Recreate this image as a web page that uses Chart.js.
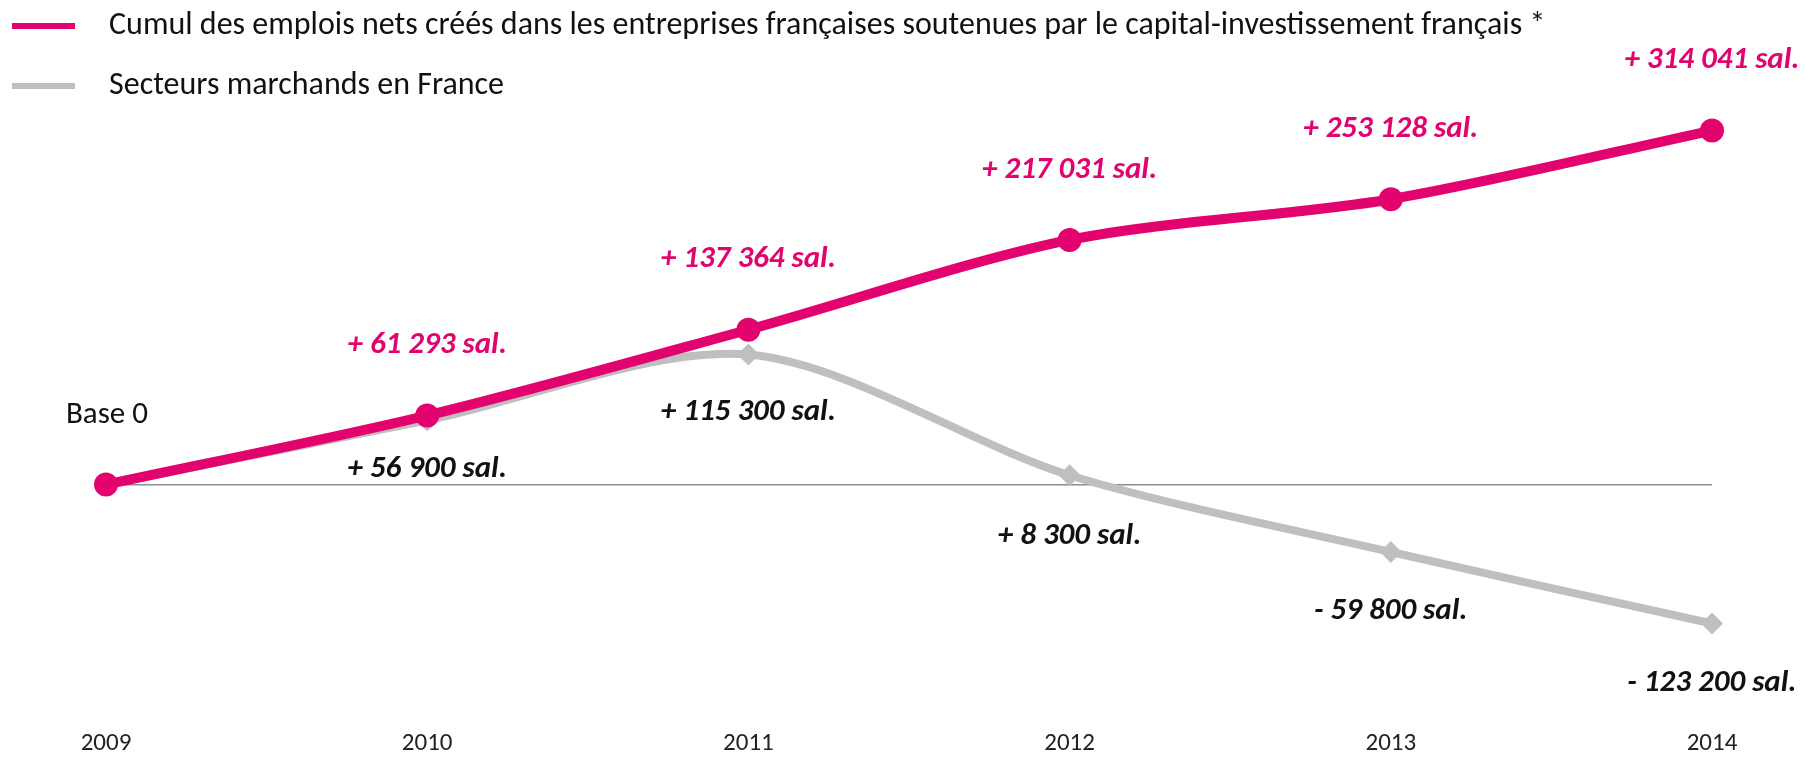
<!DOCTYPE html>
<html>
<head>
<meta charset="utf-8">
<script src="https://cdn.jsdelivr.net/npm/chart.js@4"></script>
<style>
  html, body { margin: 0; padding: 0; background: #fff; }
  #wrap { width: 1806px; height: 757px; position: relative; }
</style>
</head>
<body>
<div id="wrap"><canvas id="emploisChart"></canvas></div>
<script>
const years = ["2009", "2010", "2011", "2012", "2013", "2014"];
const capitalInvest = [0, 61293, 137364, 217031, 253128, 314041];
const secteursMarchands = [0, 56900, 115300, 8300, -59800, -123200];
const capitalLabels = ["", "+ 61 293 sal.", "+ 137 364 sal.", "+ 217 031 sal.", "+ 253 128 sal.", "+ 314 041 sal."];
const secteursLabels = ["", "+ 56 900 sal.", "+ 115 300 sal.", "+ 8 300 sal.", "- 59 800 sal.", "- 123 200 sal."];
const seriesNames = [
  "Cumul des emplois nets créés dans les entreprises françaises soutenues par le capital-investissement français *",
  "Secteurs marchands en France"
];

const MAGENTA = "#E2036F";
const GREY = "#BFBFBF";
const FONT = "Carlito, Lato, sans-serif";

// value labels above / below the points
const valueLabels = {
  id: "valueLabels",
  afterDatasetsDraw(chart) {
    const ctx = chart.ctx;
    ctx.save();
    ctx.font = "italic bold 31px " + FONT;
    ctx.textBaseline = "middle";
    const pink = chart.getDatasetMeta(0).data;
    pink.forEach((pt, i) => {
      if (!capitalLabels[i]) return;
      ctx.fillStyle = MAGENTA;
      ctx.textAlign = "center";
      let x = pt.x;
      const w = ctx.measureText(capitalLabels[i]).width;
      if (x + w / 2 > chart.width - 4) x = chart.width - 4 - w / 2;
      ctx.fillText(capitalLabels[i], x, pt.y - 70);
    });
    const grey = chart.getDatasetMeta(1).data;
    const below = [0, 49, 58, 61, 59, 60];
    grey.forEach((pt, i) => {
      if (!secteursLabels[i]) return;
      ctx.fillStyle = "#111";
      ctx.textAlign = "center";
      let x = pt.x;
      const w = ctx.measureText(secteursLabels[i]).width;
      if (x + w / 2 > chart.width - 4) x = chart.width - 4 - w / 2;
      ctx.fillText(secteursLabels[i], x, pt.y + below[i]);
    });
    // "Base 0" note
    const p0 = pink[0];
    ctx.font = "31px " + FONT;
    ctx.fillStyle = "#111";
    ctx.textAlign = "left";
    ctx.fillText("Base 0", p0.x - 40, p0.y - 69);
    ctx.restore();
  }
};

// legend drawn in the top padding
const topLegend = {
  id: "topLegend",
  afterDraw(chart) {
    const ctx = chart.ctx;
    ctx.save();
    ctx.font = "32px " + FONT;
    ctx.textBaseline = "middle";
    ctx.textAlign = "left";
    chart.data.datasets.forEach((ds, i) => {
      const y = 26 + i * 60;
      ctx.fillStyle = ds.borderColor;
      ctx.fillRect(12, y - 3, 63, 6);
      ctx.fillStyle = "#111";
      ctx.fillText(ds.label, 109, y);
    });
    ctx.restore();
  }
};

new Chart(document.getElementById("emploisChart"), {
  type: "line",
  data: {
    labels: years,
    datasets: [
      {
        label: seriesNames[0],
        data: capitalInvest,
        borderColor: MAGENTA,
        backgroundColor: MAGENTA,
        borderWidth: 10,
        pointRadius: 12,
        pointStyle: "circle",
        pointBorderWidth: 0,
        tension: 0.3
      },
      {
        label: seriesNames[1],
        data: secteursMarchands,
        borderColor: GREY,
        backgroundColor: GREY,
        borderWidth: 8,
        pointRadius: 11,
        pointStyle: "rectRot",
        pointBorderWidth: 0,
        tension: 0.3
      }
    ]
  },
  options: {
    responsive: true,
    maintainAspectRatio: false,
    animation: false,
    layout: { padding: { left: 106, right: 94, top: 90, bottom: -4 } },
    plugins: {
      legend: { display: false },
      tooltip: { enabled: false }
    },
    scales: {
      x: {
        offset: false,
        grid: { display: false, drawTicks: false },
        border: { display: false },
        ticks: { color: "#222", font: { family: FONT, size: 25 }, padding: 2, maxRotation: 0 }
      },
      y: {
        display: true,
        min: -215000,
        max: 350000,
        ticks: { display: false, stepSize: 5000 },
        border: { display: false },
        grid: {
          drawTicks: false,
          lineWidth: 1.5,
          color: (c) => (c.tick && c.tick.value === 0 ? "#8C8C8C" : "transparent")
        }
      }
    }
  },
  plugins: [valueLabels, topLegend]
});
</script>
</body>
</html>
